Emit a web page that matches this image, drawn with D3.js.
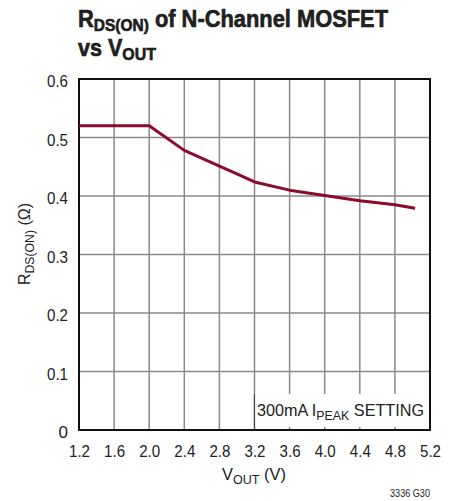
<!DOCTYPE html>
<html><head><meta charset="utf-8">
<script src="https://cdn.jsdelivr.net/npm/d3@7"></script>
<style>
body{margin:0;background:#fff;}
text{font-family:"Liberation Sans","Arial",sans-serif;fill:#222;}
</style></head>
<body><svg id="c" width="460" height="501"></svg>
<script>
const vout = [1.2, 2.0, 2.4, 2.8, 3.0, 3.2, 3.6, 4.0, 4.4, 4.8, 5.03];
const rdson = [0.52, 0.52, 0.478, 0.451, 0.438, 0.424, 0.410, 0.401, 0.392, 0.385, 0.379];
const xTicks = [1.2, 1.6, 2.0, 2.4, 2.8, 3.2, 3.6, 4.0, 4.4, 4.8, 5.2];
const yTicks = [0, 0.1, 0.2, 0.3, 0.4, 0.5, 0.6];

const svg = d3.select("#c");
const L = 79, R = 430, T = 79, B = 430;
const x = d3.scaleLinear().domain([1.2, 5.2]).range([L, R]);
const y = d3.scaleLinear().domain([0, 0.6]).range([B, T]);

function fit(sel, w) {
  sel.attr("textLength", w).attr("lengthAdjust", "spacingAndGlyphs");
}

// grid
svg.append("g").selectAll("line").data(xTicks.slice(1, -1)).join("line")
  .attr("x1", d => x(d)).attr("x2", d => x(d)).attr("y1", T).attr("y2", B)
  .attr("stroke", "#8a8a8a").attr("stroke-width", 1.5);
svg.append("g").selectAll("line").data(yTicks.slice(1, -1)).join("line")
  .attr("y1", d => y(d)).attr("y2", d => y(d)).attr("x1", L).attr("x2", R)
  .attr("stroke", "#8a8a8a").attr("stroke-width", 1.5);

// annotation box
svg.append("rect").attr("x", x(3.2)).attr("y", 394).attr("width", R - x(3.2)).attr("height", 33).attr("fill", "#fff");
svg.append("line").attr("x1", x(3.2)).attr("x2", x(3.2)).attr("y1", 394).attr("y2", B).attr("stroke", "#444").attr("stroke-width", 1.2);
const ann = svg.append("text").attr("x", 257).attr("y", 416).attr("font-size", 17);
ann.append("tspan").text("300mA I");
ann.append("tspan").attr("font-size", 13).attr("dy", 4).text("PEAK");
ann.append("tspan").attr("dy", -4).text(" SETTING");
fit(ann, 167);

// border
svg.append("rect").attr("x", L).attr("y", T).attr("width", R - L).attr("height", B - T)
  .attr("fill", "none").attr("stroke", "#111").attr("stroke-width", 2);

// data line
svg.append("path").datum(vout.map((v, i) => [v, rdson[i]]))
  .attr("d", d3.line().x(d => x(d[0])).y(d => y(d[1])))
  .attr("fill", "none").attr("stroke", "#8b0a2e").attr("stroke-width", 3).attr("stroke-linejoin", "round");

// axes labels
const xAxis = d3.axisBottom(x).tickValues(xTicks).tickFormat(d3.format(".1f")).tickSize(0).tickPadding(15);
const gx = svg.append("g").attr("transform", `translate(0,${B})`).call(xAxis);
gx.select(".domain").remove();
gx.selectAll("text").attr("font-size", 17).attr("font-family", null).attr("fill", "#222");
fit(gx.selectAll("text"), 21);

const yAxis = d3.axisLeft(y).tickValues(yTicks).tickFormat(d => d === 0 ? "0" : d3.format(".1f")(d)).tickSize(0).tickPadding(11);
const gy = svg.append("g").attr("transform", `translate(${L},0)`).call(yAxis);
gy.select(".domain").remove();
gy.selectAll("text").attr("font-size", 17).attr("font-family", null).attr("fill", "#222").attr("dy", "0.45em");
fit(gy.selectAll("text").filter(d => d !== 0), 21);

// x title
const xt = svg.append("text").attr("x", 222).attr("y", 480).attr("font-size", 17);
xt.append("tspan").text("V");
xt.append("tspan").attr("font-size", 13).attr("dy", 4).text("OUT");
xt.append("tspan").attr("dy", -4).text(" (V)");
fit(xt, 64);

// y title
const yt = svg.append("text").attr("transform", "translate(30,285) rotate(-90)").attr("font-size", 17);
yt.append("tspan").text("R");
yt.append("tspan").attr("font-size", 13).attr("dy", 4).text("DS(ON)");
yt.append("tspan").attr("dy", -4).text(" (Ω)");
fit(yt, 82);

// title
const t1 = svg.append("text").attr("x", 78).attr("y", 27).attr("font-size", 24).attr("font-weight", "bold")
  .attr("stroke", "#111").attr("stroke-width", 0.6).attr("fill", "#111");
t1.append("tspan").text("R");
t1.append("tspan").attr("font-size", 17).attr("dy", 4).text("DS(ON)");
t1.append("tspan").attr("dy", -4).text(" of N-Channel MOSFET");
fit(t1, 310);
const t2 = svg.append("text").attr("x", 78).attr("y", 56).attr("font-size", 23).attr("font-weight", "bold")
  .attr("stroke", "#111").attr("stroke-width", 0.6).attr("fill", "#111");
t2.append("tspan").text("vs V");
t2.append("tspan").attr("font-size", 17).attr("dy", 4).text("OUT");
fit(t2, 78);

const foot = svg.append("text").attr("x", 390).attr("y", 497).attr("font-size", 10).text("3336 G30");
fit(foot, 40);
</script></body></html>
